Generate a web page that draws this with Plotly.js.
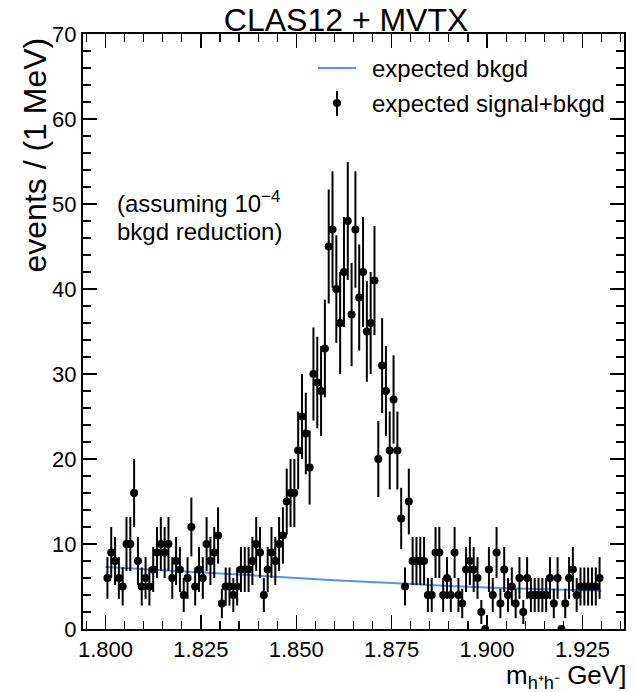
<!DOCTYPE html>
<html>
<head>
<meta charset="utf-8">
<script src="https://cdn.plot.ly/plotly-3.0.1.min.js"></script>
<style>
html,body{margin:0;padding:0;background:#ffffff;}
#chart{width:635px;height:692px;}
</style>
</head>
<body>
<div id="chart"></div>
<script>
// ---- data ----
const massLow = 1.800;      // GeV, lower edge of first bin
const binWidth = 0.001;     // GeV (1 MeV bins)
const counts = [
  6,9,8,6,5,10,10,16,8,5,
  6,5,7,9,10,9,10,6,8,7,
  4,6,12,5,7,6,10,8,9,11,
  3,5,5,4,5,7,7,7,8,10,
  9,4,7,9,8,10,11,15,16,16,
  21,25,23,19,30,29,28,33,45,47,
  40,36,42,48,37,47,39,42,35,36,
  41,20,31,28,21,27,21,13,5,15,
  8,8,8,8,4,4,9,9,4,6,
  4,9,4,3,7,8,7,6,2,0,
  7,4,9,3,7,4,5,3,6,2,
  6,4,4,4,4,4,6,3,6,0,
  3,6,7,4,5,5,5,5,5,6
];
const bkgdMass  = [1.800, 1.815, 1.830, 1.845, 1.860, 1.875, 1.890, 1.905, 1.930];
const bkgdLevel = [7.3,   6.9,   6.5,   6.1,   5.75,  5.4,   5.05,  4.8,   4.5];
const xTickVals = [1.800, 1.825, 1.850, 1.875, 1.900, 1.925];
const xTickText = ["1.800", "1.825", "1.850", "1.875", "1.900", "1.925"];

const binCenters = counts.map((c, i) => massLow + (i + 0.5) * binWidth);

const FONT = "Liberation Sans, Arial, Helvetica, sans-serif";

const traces = [
  {
    x: bkgdMass, y: bkgdLevel, type: "scatter", mode: "lines",
    line: {color: "#5b8ff0", width: 2},
    showlegend: false, hoverinfo: "skip"
  },
  {
    x: binCenters, y: counts, type: "scatter", mode: "markers",
    marker: {color: "#000000", size: 8},
    error_y: {type: "sqrt", visible: true, color: "#000000", thickness: 2, width: 0},
    showlegend: false
  }
];

// legend / text geometry in paper units (pixel helpers)
const px = v => (v - 83) / 541;
const py = v => (629 - v) / 595;

const layout = {
  width: 635, height: 692,
  margin: {l: 83, r: 11, t: 34, b: 63},
  paper_bgcolor: "#ffffff", plot_bgcolor: "#ffffff",
  font: {family: FONT, color: "#000000", size: 22},
  title: {text: "CLAS12 + MVTX", font: {family: FONT, size: 32, color: "#000"},
          x: 0.545, xanchor: "center", y: 1 - 20 / 692, yanchor: "middle", yref: "container"},
  xaxis: {
    range: [1.7941, 1.9359], tickvals: xTickVals, ticktext: xTickText,
    ticks: "inside", ticklen: 14, tickwidth: 1.5, tickcolor: "#000",
    minor: {dtick: 0.005, tick0: 1.8, ticks: "inside", ticklen: 8, tickwidth: 1.2, tickcolor: "#000"},
    showline: true, linewidth: 2, linecolor: "#000", mirror: "allticks",
    showgrid: false, zeroline: false,
    tickfont: {family: FONT, size: 22, color: "#000"}
  },
  yaxis: {
    range: [0, 70], dtick: 10, tick0: 0,
    ticks: "inside", ticklen: 14, tickwidth: 1.5, tickcolor: "#000",
    minor: {dtick: 2, tick0: 0, ticks: "inside", ticklen: 8, tickwidth: 1.2, tickcolor: "#000"},
    showline: true, linewidth: 2, linecolor: "#000", mirror: "allticks",
    showgrid: false, zeroline: false,
    tickfont: {family: FONT, size: 22, color: "#000"}
  },
  shapes: [
    {type: "line", xref: "paper", yref: "paper", x0: px(318), x1: px(356), y0: py(68), y1: py(68),
     line: {color: "#5b8ff0", width: 2}},
    {type: "line", xref: "paper", yref: "paper", x0: px(337), x1: px(337), y0: py(91), y1: py(116),
     line: {color: "#000", width: 2}},
    {type: "circle", xref: "paper", yref: "paper", x0: px(333), x1: px(341), y0: py(107), y1: py(99),
     fillcolor: "#000", line: {color: "#000", width: 0}}
  ],
  annotations: [
    {text: "expected bkgd", xref: "paper", yref: "paper", x: px(370), y: py(68),
     xanchor: "left", yanchor: "middle", showarrow: false, font: {family: FONT, size: 24}},
    {text: "expected signal+bkgd", xref: "paper", yref: "paper", x: px(370), y: py(103),
     xanchor: "left", yanchor: "middle", showarrow: false, font: {family: FONT, size: 24}},
    {text: "(assuming 10<sup>\u22124</sup>", xref: "paper", yref: "paper",
     x: px(115), y: py(202), xanchor: "left", yanchor: "middle", align: "left", showarrow: false,
     font: {family: FONT, size: 24}},
    {text: "bkgd reduction)", xref: "paper", yref: "paper",
     x: px(115), y: py(231), xanchor: "left", yanchor: "middle", align: "left", showarrow: false,
     font: {family: FONT, size: 24}},
    {text: "m<sub>h\u207Ah\u207B</sub> GeV]", xref: "paper", yref: "paper", x: px(627), y: py(676),
     xanchor: "right", yanchor: "middle", showarrow: false, borderpad: 0, font: {family: FONT, size: 26}},
    {text: "events / (1 MeV)", xref: "paper", yref: "paper", x: px(34), y: py(36),
     xanchor: "center", yanchor: "top", textangle: -90, showarrow: false, font: {family: FONT, size: 32}}
  ]
};

Plotly.newPlot("chart", traces, layout, {displayModeBar: false, staticPlot: true});
</script>
</body>
</html>
